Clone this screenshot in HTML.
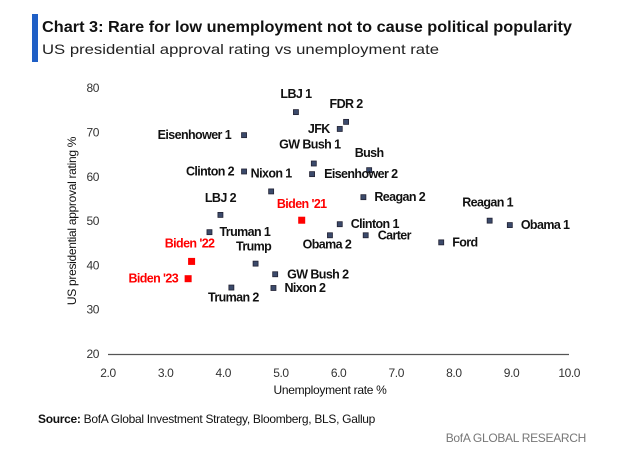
<!DOCTYPE html>
<html><head><meta charset="utf-8"><style>
body{margin:0;background:#fff;width:631px;height:460px;overflow:hidden;font-family:"Liberation Sans",sans-serif;}
svg text{font-family:"Liberation Sans",sans-serif;}
</style></head><body>
<svg id="c" width="631" height="460">
<rect x="32" y="14" width="6" height="48" fill="#1f5fc6"/>
<text x="42" y="32" font-size="15.5" font-weight="bold" fill="#111" textLength="530" lengthAdjust="spacingAndGlyphs">Chart 3: Rare for low unemployment not to cause political popularity</text>
<text x="42" y="54" font-size="14" fill="#222" textLength="397" lengthAdjust="spacingAndGlyphs">US presidential approval rating vs unemployment rate</text>
<g id="axes"></g>
<g id="marks"></g>
<text transform="translate(76,221) rotate(-90)" text-anchor="middle" font-size="12" letter-spacing="-0.3" fill="#111">US presidential approval rating %</text>
<text x="330" y="394" text-anchor="middle" font-size="12" letter-spacing="-0.3" fill="#111">Unemployment rate %</text>
<text x="38" y="423" font-size="12" letter-spacing="-0.3" fill="#111"><tspan font-weight="bold">Source:</tspan> BofA Global Investment Strategy, Bloomberg, BLS, Gallup</text>
<text x="586" y="442" text-anchor="end" font-size="12" letter-spacing="-0.3" fill="#777">BofA GLOBAL RESEARCH</text>
</svg>
<script>
const names=["LBJ 1","FDR 2","JFK","Eisenhower 1","GW Bush 1","Bush","Eisenhower 2","Clinton 2","Nixon 1","Reagan 2","LBJ 2","Biden '21","Reagan 1","Obama 1","Clinton 1","Truman 1","Obama 2","Carter","Ford","Biden '22","Trump","Biden '23","GW Bush 2","Nixon 2","Truman 2"];
const unemployment=[5.26,6.13,6.02,4.36,5.57,6.53,5.54,4.36,4.83,6.43,3.95,5.36,8.62,8.97,6.02,3.76,5.85,6.47,7.78,3.45,4.56,3.39,4.90,4.87,4.14];
const approval=[74.6,72.4,70.8,69.4,63.0,61.5,60.6,61.2,56.7,55.4,51.4,50.2,50.1,49.1,49.3,47.5,46.8,46.8,45.2,40.9,40.4,37.0,38.0,34.9,35.0];
const isBiden=[0,0,0,0,0,0,0,0,0,0,0,1,0,0,0,0,0,0,0,1,0,1,0,0,0];
const xTicks=[2,3,4,5,6,7,8,9,10];
const yTicks=[20,30,40,50,60,70,80];
// label placement: [dx, dy, anchor]
const lab=[[0,-14,"middle"],[0,-14,"middle"],[-10,4,"end"],[-13,4,"end"],[-4,-15,"middle"],[0,-13,"middle"],[12,4,"start"],[-10,4,"end"],[0,-14,"middle"],[11,4,"start"],[0,-13,"middle"],[0,-12,"middle"],[-2,-14,"middle"],[11,4,"start"],[11,4,"start"],[10,4,"start"],[-3,13,"middle"],[12,4,"start"],[11,4,"start"],[-2,-14,"middle"],[-2,-13,"middle"],[-10,4,"end"],[12,4,"start"],[11,4,"start"],[2,14,"middle"]];
const X=v=>108+(v-2)*57.65, Y=v=>354-(v-20)*4.43;
const NS="http://www.w3.org/2000/svg";
function mk(t,a,p){const e=document.createElementNS(NS,t);for(const k in a)e.setAttribute(k,a[k]);p.appendChild(e);return e;}
const ax=document.getElementById('axes'),mg=document.getElementById('marks');
const xl=mk('line',{x1:108,x2:569,y1:354.5,y2:354.5,stroke:'#555','stroke-width':1.2},ax);


xTicks.forEach(t=>{const e=mk('text',{x:X(t),y:377,'text-anchor':'middle','font-size':12,'letter-spacing':-0.4,fill:'#333'},ax);e.textContent=t.toFixed(1);

});
yTicks.forEach(t=>{const e=mk('text',{x:99,y:Y(t)+4,'text-anchor':'end','font-size':12,'letter-spacing':-0.4,fill:'#333'},ax);e.textContent=t;

});
names.forEach((n,i)=>{const x=X(unemployment[i]),y=Y(approval[i]);const red=isBiden[i];
const s=red?7:5;
const r=mk('rect',{x:x-s/2,y:y-s/2,width:s,height:s,fill:red?'#ff0000':'#3b4a6b',stroke:red?'none':'#223',"stroke-width":0.8},mg);


const l=lab[i];const t=mk('text',{x:x+l[0],y:y+l[1],'text-anchor':l[2],'font-size':12.5,'font-weight':'bold','letter-spacing':-0.6,fill:red?'#ff0000':'#111'},mg);t.textContent=n;

});
</script>
</body></html>
